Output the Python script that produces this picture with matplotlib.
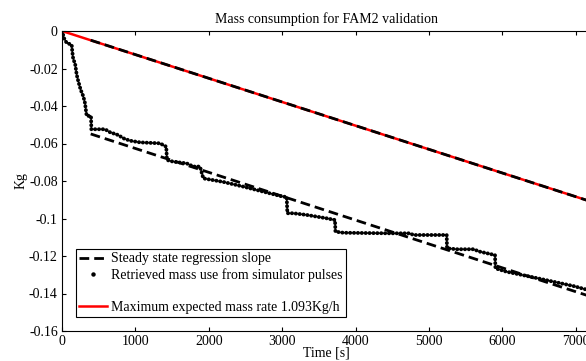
import matplotlib.pyplot as plt
from matplotlib.lines import Line2D

# retrieved mass use from simulator pulses (staircase)
PULSE_T = [0, 30, 64, 132, 140, 154, 177, 200, 222, 254, 290, 313, 336, 395,
           400, 586, 654, 767, 835, 926, 1063, 1335, 1420, 1430, 1516, 1699,
           1789, 1880, 1925, 2198, 2470, 2743, 3015, 3061, 3070, 3152, 3334,
           3606, 3719, 3725, 3832, 4469, 4741, 4786, 5241, 5245, 5377, 5604,
           5695, 5899, 5905, 6058, 6376, 6694, 6966, 7200]
PULSE_V = [0, -0.004, -0.0064, -0.0073, -0.011, -0.0153, -0.017, -0.0233,
           -0.0268, -0.0313, -0.0348, -0.0384, -0.0453, -0.0453, -0.0524,
           -0.0524, -0.054, -0.0555, -0.0572, -0.0585, -0.0594, -0.0599,
           -0.0617, -0.0688, -0.0697, -0.0706, -0.0723, -0.0723, -0.0786,
           -0.0805, -0.083, -0.0857, -0.0884, -0.0884, -0.0972, -0.0972,
           -0.0981, -0.0999, -0.1008, -0.107, -0.1076, -0.1079, -0.1079,
           -0.1088, -0.1088, -0.1159, -0.1164, -0.1164, -0.1177, -0.1195,
           -0.1266, -0.1284, -0.131, -0.1337, -0.136, -0.1385]

# steady state regression slope, and the same slope from the origin
REG_T = [391, 7200]
REG_V = [-0.0549, -0.1416]
REG0_V = [-0.0049, -0.0909]

# maximum expected mass rate
MAX_T = [0, 7200]
MAX_V = [0, -0.0909]

X_TICKS = [0, 1000, 2000, 3000, 4000, 5000, 6000, 7000]
Y_TICKS = [0, -0.02, -0.04, -0.06, -0.08, -0.1, -0.12, -0.14, -0.16]
Y_LABELS = ["0", "-0.02", "-0.04", "-0.06", "-0.08", "-0.1", "-0.12", "-0.14", "-0.16"]

DASH = (3.5, 1.8)


def main() -> None:
    plt.rcParams["font.family"] = ["Liberation Serif", "DejaVu Serif"]
    plt.rcParams["font.size"] = 10

    fig = plt.figure(figsize=(5.86, 3.61), dpi=100)
    ax = fig.add_axes([62 / 586, 30 / 361, 528.5 / 586, 300 / 361])

    ax.plot(MAX_T, MAX_V, color="red", lw=1.8, solid_capstyle="butt")
    ax.plot(REG_T, REG0_V, color="black", lw=2, dashes=DASH)
    ax.plot(REG_T, REG_V, color="black", lw=2, dashes=DASH)
    # pulses drawn as a chain of round dots along the staircase
    ax.plot(PULSE_T, PULSE_V, color="black", lw=2.8, dashes=(0.05, 0.95),
            dash_capstyle="round")

    ax.set_xlim(0, 7200)
    ax.set_ylim(-0.16, 0)
    ax.set_xticks(X_TICKS)
    ax.set_yticks(Y_TICKS)
    ax.set_yticklabels(Y_LABELS)
    ax.tick_params(direction="in", top=True, right=True, length=3, width=0.8, pad=3)
    for spine in ax.spines.values():
        spine.set_linewidth(0.8)

    ax.set_title("Mass consumption for FAM2 validation", fontsize=10, pad=6)
    ax.set_xlabel("Time [s]", labelpad=-1)
    ax.set_ylabel("Kg", labelpad=1)

    handles = [
        Line2D([], [], color="black", lw=2, dashes=DASH),
        Line2D([], [], ls="none", marker="o", ms=3.2, color="black", markeredgewidth=0),
        Line2D([], [], ls="none"),
        Line2D([], [], color="red", lw=1.8),
    ]
    labels = [
        "Steady state regression slope",
        "Retrieved mass use from simulator pulses",
        " ",
        "Maximum expected mass rate 1.093Kg/h",
    ]
    leg = ax.legend(handles, labels, loc="lower left", bbox_to_anchor=(0.0265, 0.0467),
                    borderaxespad=0, fancybox=False, edgecolor="black", framealpha=1,
                    numpoints=1, handlelength=2.0, handletextpad=0.25,
                    labelspacing=0.2, borderpad=0.25)
    leg.get_frame().set_linewidth(0.8)

    fig.savefig("out.png", dpi=100)


if __name__ == "__main__":
    main()
